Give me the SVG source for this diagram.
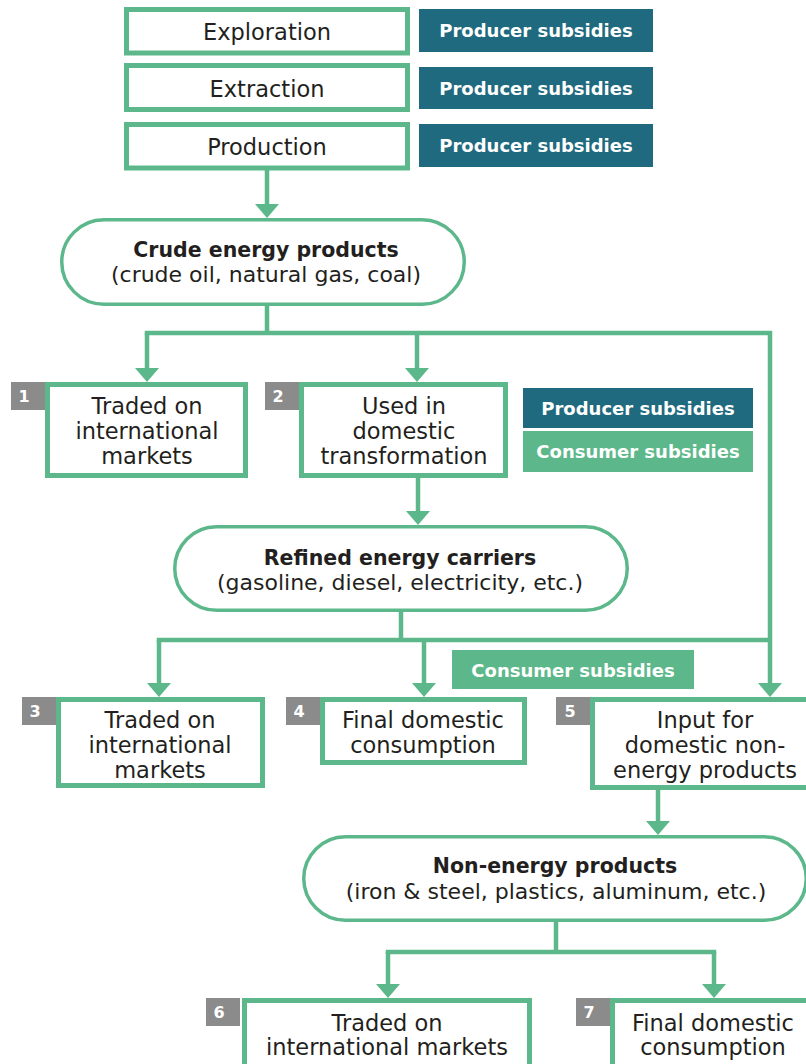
<svg xmlns="http://www.w3.org/2000/svg" width="806" height="1064" viewBox="0 0 806 1064">
<defs>
<style>
.box{fill:#fff;stroke:#5cb88a;stroke-width:5}
.stad{fill:#fff;stroke:#5cb88a;stroke-width:3.5}
.t{font-family:"DejaVu Sans","Liberation Sans",sans-serif;font-size:22.5px;fill:#231f20;text-anchor:middle}
.tb{font-family:"DejaVu Sans","Liberation Sans",sans-serif;font-size:20.5px;font-weight:bold;fill:#231f20;text-anchor:middle}
.ts{font-family:"DejaVu Sans","Liberation Sans",sans-serif;font-size:22px;fill:#231f20;text-anchor:middle}
.prod{fill:#1f6a7e}
.cons{fill:#5cb88a}
.lab{font-family:"DejaVu Sans","Liberation Sans",sans-serif;font-size:18px;font-weight:bold;fill:#fff;text-anchor:middle}
.badge{fill:#8b8b8b}
.num{font-family:"DejaVu Sans","Liberation Sans",sans-serif;font-size:16px;font-weight:bold;fill:#fff;text-anchor:middle}
.ln{fill:none;stroke:#5cb88a;stroke-width:4.5}
</style>
<marker id="ah" viewBox="0 0 14 24" refX="6" refY="12" markerWidth="14" markerHeight="24" markerUnits="userSpaceOnUse" orient="auto">
<path d="M0,0 L14,12 L0,24 z" fill="#5cb88a"/>
</marker>
</defs>
<rect width="806" height="1064" fill="#fff"/>

<g id="connectors">
<path class="ln" d="M267,170 V210" marker-end="url(#ah)"/>
<path class="ln" d="M267,305 V333"/>
<path class="ln" d="M147,333 V374" marker-end="url(#ah)"/>
<path class="ln" d="M417,333 V374" marker-end="url(#ah)"/>
<path class="ln" d="M144.75,333 H770 V689" marker-end="url(#ah)"/>
<path class="ln" d="M418,478 V517" marker-end="url(#ah)"/>
<path class="ln" d="M401,612 V640"/>
<path class="ln" d="M156.75,640 H772"/>
<path class="ln" d="M159,640 V689" marker-end="url(#ah)"/>
<path class="ln" d="M424,640 V689" marker-end="url(#ah)"/>
<path class="ln" d="M658,790 V827" marker-end="url(#ah)"/>
<path class="ln" d="M556,922 V952"/>
<path class="ln" d="M385.75,952 H716.25"/>
<path class="ln" d="M388,952 V990" marker-end="url(#ah)"/>
<path class="ln" d="M714,952 V990" marker-end="url(#ah)"/>
</g>

<g id="exploration">
<rect class="box" x="126.5" y="9.5" width="281" height="43.5"/>
<text class="t" x="267" y="39.5">Exploration</text>
</g>
<g id="producer-1">
<rect class="prod" x="419" y="9" width="234" height="43"/>
<text class="lab" x="536" y="37">Producer subsidies</text>
</g>
<g id="extraction">
<rect class="box" x="126.5" y="65.5" width="281" height="44"/>
<text class="t" x="267" y="96.5">Extraction</text>
</g>
<g id="producer-2">
<rect class="prod" x="419" y="67" width="234" height="42"/>
<text class="lab" x="536" y="94.5">Producer subsidies</text>
</g>
<g id="production">
<rect class="box" x="126.5" y="124.5" width="281" height="43.5"/>
<text class="t" x="267" y="154.5">Production</text>
</g>
<g id="producer-3">
<rect class="prod" x="419" y="124" width="234" height="43"/>
<text class="lab" x="536" y="152">Producer subsidies</text>
</g>

<g id="crude">
<rect class="stad" x="61.75" y="219.75" width="402.5" height="84.5" rx="42.25"/>
<text class="tb" x="266" y="257">Crude energy products</text>
<text class="ts" x="266" y="282">(crude oil, natural gas, coal)</text>
</g>

<g id="box1">
<rect class="badge" x="11" y="382" width="34" height="28"/>
<text class="num" x="24" y="402">1</text>
<rect class="box" x="47.5" y="384.5" width="198" height="91"/>
<text class="t" x="147" y="414">Traded on</text>
<text class="t" x="147" y="439">international</text>
<text class="t" x="147" y="464">markets</text>
</g>

<g id="box2">
<rect class="badge" x="265" y="382" width="34" height="28"/>
<text class="num" x="278" y="402">2</text>
<rect class="box" x="301.5" y="384.5" width="204" height="91"/>
<text class="t" x="404" y="414">Used in</text>
<text class="t" x="404" y="439">domestic</text>
<text class="t" x="404" y="464">transformation</text>
</g>

<g id="subsidies-2">
<rect class="prod" x="523" y="388" width="230" height="40"/>
<text class="lab" x="638" y="414.5">Producer subsidies</text>
<rect class="cons" x="523" y="431" width="230" height="41"/>
<text class="lab" x="638" y="458">Consumer subsidies</text>
</g>

<g id="refined">
<rect class="stad" x="174.75" y="526.75" width="452.5" height="83.5" rx="41.75"/>
<text class="tb" x="400" y="565">Refined energy carriers</text>
<text class="ts" x="400" y="590">(gasoline, diesel, electricity, etc.)</text>
</g>

<g id="subsidies-3">
<rect class="cons" x="452" y="650" width="242" height="39"/>
<text class="lab" x="573" y="676.5">Consumer subsidies</text>
</g>

<g id="box3">
<rect class="badge" x="22" y="697" width="34" height="28"/>
<text class="num" x="35" y="717">3</text>
<rect class="box" x="58.5" y="699.5" width="204" height="86"/>
<text class="t" x="160" y="728">Traded on</text>
<text class="t" x="160" y="753">international</text>
<text class="t" x="160" y="778">markets</text>
</g>

<g id="box4">
<rect class="badge" x="286" y="697" width="34" height="28"/>
<text class="num" x="299" y="717">4</text>
<rect class="box" x="322.5" y="699.5" width="202" height="63"/>
<text class="t" x="423" y="728">Final domestic</text>
<text class="t" x="423" y="753">consumption</text>
</g>

<g id="box5">
<rect class="badge" x="556" y="697" width="34" height="28"/>
<text class="num" x="570" y="717">5</text>
<rect class="box" x="592.5" y="699.5" width="230" height="88"/>
<text class="t" x="705" y="728">Input for</text>
<text class="t" x="705" y="753">domestic non-</text>
<text class="t" x="705" y="778">energy products</text>
</g>

<g id="non-energy">
<rect class="stad" x="303.75" y="836.75" width="502.5" height="83.5" rx="41.75"/>
<text class="tb" x="555" y="873">Non-energy products</text>
<text class="ts" x="556" y="899">(iron &amp; steel, plastics, aluminum, etc.)</text>
</g>

<g id="box6">
<rect class="badge" x="206" y="998" width="34" height="28"/>
<text class="num" x="219" y="1018">6</text>
<rect class="box" x="244.5" y="1000.5" width="285" height="80"/>
<text class="t" x="387" y="1031">Traded on</text>
<text class="t" x="387" y="1055">international markets</text>
</g>

<g id="box7">
<rect class="badge" x="576" y="998" width="34" height="28"/>
<text class="num" x="589" y="1018">7</text>
<rect class="box" x="612.5" y="1000.5" width="210" height="80"/>
<text class="t" x="713" y="1031">Final domestic</text>
<text class="t" x="713" y="1055">consumption</text>
</g>
</svg>
